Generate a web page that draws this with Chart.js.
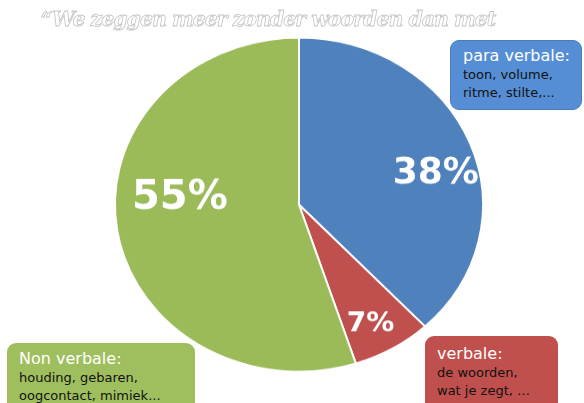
<!DOCTYPE html>
<html>
<head>
<meta charset="utf-8">
<script src="https://cdn.jsdelivr.net/npm/chart.js@4.4.0/dist/chart.umd.min.js"></script>
<style>
  html, body { margin: 0; padding: 0; background: #fff; }
  #wrap { position: relative; width: 584px; height: 403px; overflow: hidden; }
  #pieBox { position: absolute; left: 0; top: 0; width: 584px; height: 444px;
            transform: scaleY(0.9076); transform-origin: 0 0; }
  #title { position: absolute; left: 0; width: 536px; top: 7px; text-align: center;
           font-family: "DejaVu Serif", serif; font-style: italic; font-weight: bold;
           font-size: 20.5px; letter-spacing: -1px; color: #fff; -webkit-text-stroke: 0.8px #c4c4c4; white-space: nowrap; }
  .note { position: absolute; border-radius: 9px; padding: 7px 0 0 12px; box-sizing: border-box;
          font-family: "DejaVu Sans", sans-serif; color: #111; font-size: 13px; line-height: 18.5px; }
  .note b { display: block; color: #fff; font-weight: normal; font-size: 16px; line-height: 18.5px; }
</style>
</head>
<body>
<div id="wrap">
  <div id="pieBox"><canvas id="pie" width="584" height="444"></canvas></div>
  <div id="title"></div>
  <div class="note" id="n0" style="left:450px; top:40px; width:132px; height:70px; padding-top:6px; background:#558ed5; border:1px solid #4a7ebb;"></div>
  <div class="note" id="n1" style="left:425px; top:336px; width:133px; height:80px; padding-top:9px; background:#c0504d;"></div>
  <div class="note" id="n2" style="left:7px; top:343px; width:188px; height:80px; background:#9fbf5e;"></div>
</div>
<script>
const titleText = '\u201CWe zeggen meer zonder woorden dan met';
const categories = ['para verbale', 'verbale', 'Non verbale'];
const shares = [38, 7, 55];
const notes = [
    ['para verbale:', 'toon, volume,', 'ritme, stilte,...'],
    ['verbale:', 'de woorden,', 'wat je zegt, \u2026'],
    ['Non verbale:', 'houding, gebaren,', 'oogcontact, mimiek...']
];
const sliceColors = ['#4f81bd', '#c0504d', '#9bbb59'];

// label tweaks: radius fraction, angle nudge (deg), font size
const labelFit = [[0.77, 6.5, 36], [0.80, 1.5, 28], [0.65, 14, 40]];
const SQUASH = 0.9076;

document.getElementById('title').textContent = titleText;
notes.forEach((lines, i) => {
    let el = document.getElementById('n' + i);
    let b = document.createElement('b');
    b.textContent = lines[0];
    el.appendChild(b);
    lines.slice(1).forEach((t) => {
        let d = document.createElement('div');
        d.textContent = t;
        el.appendChild(d);
    });
});

const pctLabels = {
    id: 'pctLabels',
    afterDatasetsDraw(chart) {
        let ctx = chart.ctx;
        chart.getDatasetMeta(0).data.forEach((arc, i) => {
            let fit = labelFit[i];
            let a = (arc.startAngle + arc.endAngle) / 2 + fit[1] * Math.PI / 180;
            let r = arc.outerRadius * fit[0];
            ctx.save();
            ctx.translate(arc.x + Math.cos(a) * r, arc.y + Math.sin(a) * r + 3);
            ctx.scale(1, 1 / SQUASH);
            ctx.fillStyle = '#fff';
            ctx.font = 'bold ' + fit[2] + 'px "DejaVu Sans"';
            ctx.textAlign = 'center';
            ctx.textBaseline = 'middle';
            ctx.fillText(shares[i] + '%', 0, 0);
            ctx.restore();
        });
    }
};

new Chart(document.getElementById('pie').getContext('2d'), {
    type: 'pie',
    data: {
        labels: categories,
        datasets: [{
            data: shares,
            backgroundColor: sliceColors,
            borderColor: '#fff',
            borderWidth: 2
        }]
    },
    options: {
        responsive: false,
        animation: false,
        layout: { padding: { left: 114, right: 100, top: 40.5, bottom: 33.5 } },
        plugins: { legend: { display: false }, tooltip: { enabled: false } }
    },
    plugins: [pctLabels]
});
</script>
</body>
</html>
